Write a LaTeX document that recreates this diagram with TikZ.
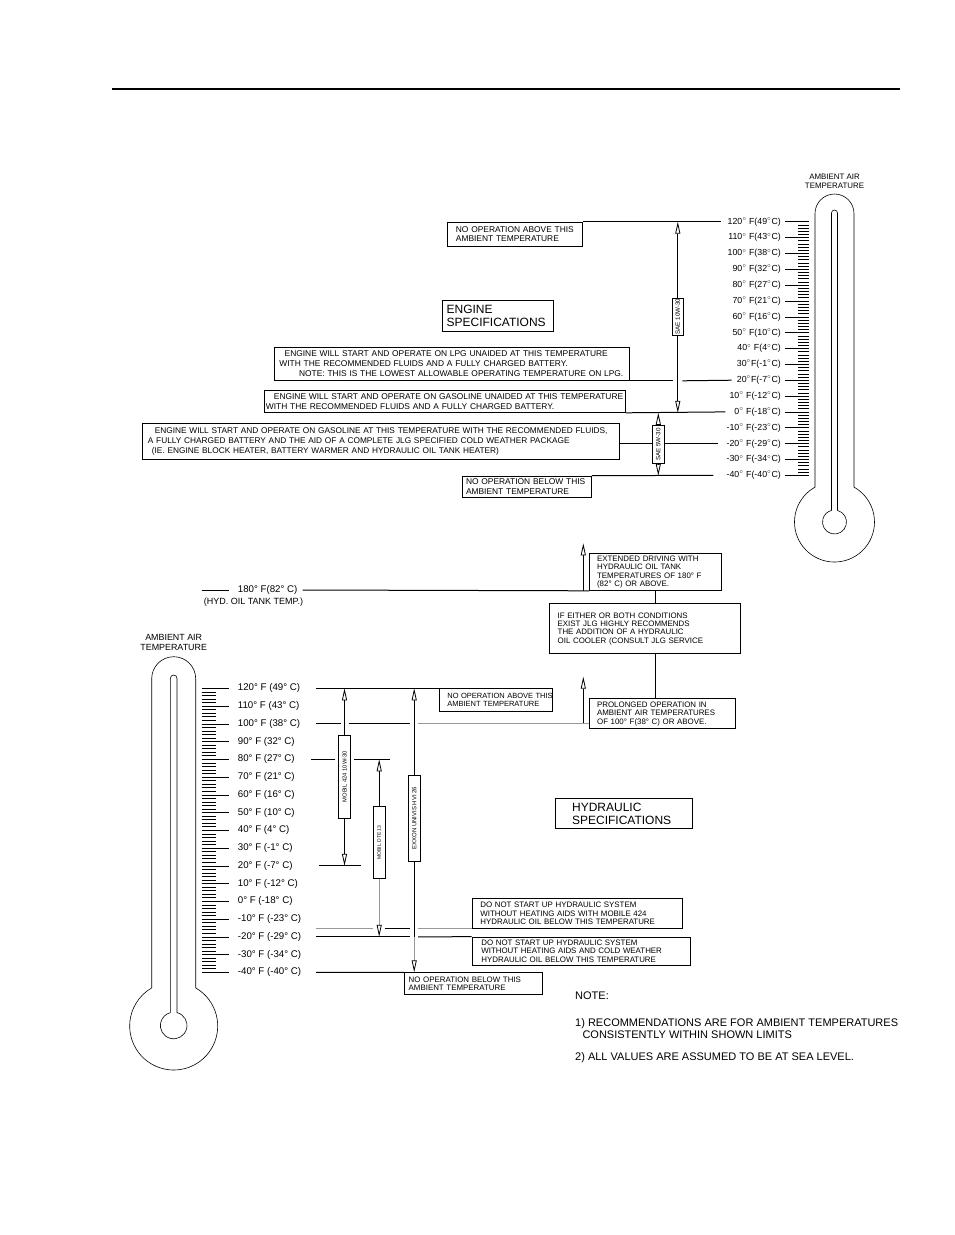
\documentclass[tikz,border=0pt]{standalone}
\usepackage{fontspec}
\setmainfont{Liberation Sans}
\usetikzlibrary{arrows.meta, calc}

\begin{document}
\begin{tikzpicture}[x=1pt, y=-1pt,
  note/.style  ={draw, line width=0.8pt, anchor=north west, align=left,
                 inner ysep=0pt, font=\fontsize{8.4}{9.8}\selectfont},
  hnote/.style ={note, font=\fontsize{7.9}{8.4}\selectfont},
  spec/.style  ={note, font=\fontsize{12}{13.4}\selectfont},
  oil/.style   ={draw, fill=white, line width=0.8pt, inner sep=0pt},
  arr/.style   ={-{Triangle[open, length=12pt, width=5pt, color=black]},
                 line width=0.8pt},
  lvl/.style   ={line width=1pt},
  faint/.style ={line width=1pt, draw=black!40},
  tick/.style  ={line width=0.6pt},
  therm/.style ={line width=0.6pt},
  tlbl/.style  ={inner sep=1pt, font=\fontsize{8.8}{10}\selectfont},
  blbl/.style  ={inner sep=1pt, font=\fontsize{9.7}{11}\selectfont},
]
\useasboundingbox (0,0) rectangle (954,1235);
\draw[line width=1.5pt] (112,89) -- (900,89);

%% ---- Engine thermometer ----
\node[align=center, font=\fontsize{7.9}{9.3}\selectfont] (ambe) at (834.5,181.5)
  {AMBIENT AIR\\TEMPERATURE};
\draw[therm] (815,487.1) -- (815,213.5) arc[start angle=180, end angle=360, radius=19.5]
  -- (854,487.1) arc[start angle=-60.8, end angle=240.8, radius=40] -- cycle;
\draw[therm] (831.5,510.4) -- (831.5,213) arc[start angle=180, end angle=360, radius=3]
  -- (837.5,510.4) arc[start angle=-75.5, end angle=255.5, radius=12] -- cycle;
\foreach \tf in {120,118,...,-40}
  \draw[tick] (798,{221.7+(120-\tf)*1.585}) -- (809,{221.7+(120-\tf)*1.585});
\foreach \tf/\id/\txt in {120/120/{120$^\circ$ F(49$^\circ$C)}, 110/110/{110$^\circ$ F(43$^\circ$C)},
    100/100/{100$^\circ$ F(38$^\circ$C)}, 90/90/{90$^\circ$ F(32$^\circ$C)},
    80/80/{80$^\circ$ F(27$^\circ$C)}, 70/70/{70$^\circ$ F(21$^\circ$C)},
    60/60/{60$^\circ$ F(16$^\circ$C)}, 50/50/{50$^\circ$ F(10$^\circ$C)},
    40/40/{40$^\circ$ F(4$^\circ$C)}, 30/30/{30$^\circ$F(-1$^\circ$C)},
    20/20/{20$^\circ$F(-7$^\circ$C)}, 10/10/{10$^\circ$ F(-12$^\circ$C)},
    0/0/{0$^\circ$ F(-18$^\circ$C)}, -10/m10/{-10$^\circ$ F(-23$^\circ$C)},
    -20/m20/{-20$^\circ$ F(-29$^\circ$C)}, -30/m30/{-30$^\circ$ F(-34$^\circ$C)},
    -40/m40/{-40$^\circ$ F(-40$^\circ$C)}}{
  \pgfmathsetmacro{\yy}{221.7+(120-\tf)*1.585}
  \node[tlbl, anchor=east] (te\id) at (782,\yy) {\txt};
  \draw[tick] (785,\yy) -- (809,\yy);
}

%% ---- Engine notes ----
\node[note, inner xsep=8.5pt, text width=118pt, minimum height=24pt] (noabove_e) at (447,221.7)
  {NO OPERATION ABOVE THIS\\AMBIENT TEMPERATURE};
\node[spec, inner xsep=4.5pt, text width=102pt, minimum height=30.7pt] (engspec) at (441.7,300)
  {ENGINE\\SPECIFICATIONS};
\node[note, inner xsep=4.7pt, text width=345.3pt, minimum height=33pt] (lpg) at (274.3,347)
  {\hspace*{5.3pt}ENGINE WILL START AND OPERATE ON LPG UNAIDED AT THIS TEMPERATURE\\
   WITH THE RECOMMENDED FLUIDS AND A FULLY CHARGED BATTERY.\\
   \hspace*{19.7pt}NOTE: THIS IS THE LOWEST ALLOWABLE OPERATING TEMPERATURE ON LPG.};
\node[note, inner xsep=2pt, text width=357.5pt, minimum height=22pt] (gas) at (263.5,390)
  {\hspace*{8pt}ENGINE WILL START AND OPERATE ON GASOLINE UNAIDED AT THIS TEMPERATURE\\
   WITH THE RECOMMENDED FLUIDS AND A FULLY CHARGED BATTERY.};
\node[note, font=\fontsize{8.3}{9.8}\selectfont, inner xsep=6pt, text width=465pt,
  minimum height=36pt] (cold) at (141.5,423.3)
  {\mbox{\hspace*{7pt}ENGINE WILL START AND OPERATE ON GASOLINE AT THIS TEMPERATURE WITH THE RECOMMENDED FLUIDS,}\\
   A FULLY CHARGED BATTERY AND THE AID OF A COMPLETE JLG SPECIFIED COLD WEATHER PACKAGE\\
   \hspace*{4pt}(IE. ENGINE BLOCK HEATER, BATTERY WARMER AND HYDRAULIC OIL TANK HEATER)};
\node[note, inner xsep=3.6pt, text width=121.8pt, minimum height=21pt] (nobelow_e) at (462,475.7)
  {NO OPERATION BELOW THIS\\AMBIENT TEMPERATURE};

\node[oil, minimum width=11pt, minimum height=36.7pt, font=\fontsize{6.2}{6}\selectfont]
  (sae10) at (677.8,316.7) {\rotatebox{90}{SAE 10W-30}};
\node[oil, minimum width=11.3pt, minimum height=37.6pt, font=\fontsize{6.2}{6}\selectfont]
  (sae5) at (658.3,444.5) {\rotatebox{90}{SAE 5W-30}};

%% ---- Engine levels ----
\draw[lvl] (noabove_e.north east) -- ($(te120.west)+(-5,0)$);
\draw[lvl] (lpg.south east) -- ($(sae10 |- lpg.south)+(-4.5,0)$);
\draw[lvl] ($(sae10 |- lpg.south)+(4.5,0)$) -- ($(te20.west)+(-4,0)$);
\draw[lvl] (gas.south east) -- ($(te0.west)+(-8,0)$);
\draw[lvl] (cold.east |- tem20) -- (sae5.west |- tem20);
\draw[lvl] (sae5.east |- tem20) -- ($(tem20.west)+(-7,0)$);
\draw[lvl] (nobelow_e.north east) -- ($(tem40.west)+(-12,0)$);

\draw[arr] (sae10.north) -- (sae10.north |- noabove_e.north);
\draw[arr] (sae10.south) -- (sae10.south |- gas.south);
\draw[arr] (sae5.north)  -- (sae5.north |- gas.south);
\draw[arr] (sae5.south)  -- (sae5.south |- nobelow_e.north);

%% ---- Hydraulic thermometer ----
\node[align=center, font=\fontsize{8.9}{10}\selectfont] (ambh) at (173.7,642.7)
  {AMBIENT AIR\\TEMPERATURE};
\draw[therm] (151.7,987.9) -- (151.7,678.7) arc[start angle=180, end angle=360, radius=22]
  -- (195.7,987.9) arc[start angle=-60, end angle=240, radius=44] -- cycle;
\draw[therm] (170.4,1012.6) -- (170.4,678.3) arc[start angle=180, end angle=360, radius=3.3]
  -- (177,1012.6) arc[start angle=-75.6, end angle=255.6, radius=13.3] -- cycle;
\foreach \tf in {120,118,...,-40}
  \draw[tick] (201.7,{688.3+(120-\tf)*1.775}) -- (216,{688.3+(120-\tf)*1.775});
\foreach \tf/\id/\txt in {120/120/{120° F (49° C)}, 110/110/{110° F (43° C)},
    100/100/{100° F (38° C)}, 90/90/{90° F (32° C)}, 80/80/{80° F (27° C)},
    70/70/{70° F (21° C)}, 60/60/{60° F (16° C)}, 50/50/{50° F (10° C)},
    40/40/{40° F (4° C)}, 30/30/{30° F (-1° C)}, 20/20/{20° F (-7° C)},
    10/10/{10° F (-12° C)}, 0/0/{0° F (-18° C)}, -10/m10/{-10° F (-23° C)},
    -20/m20/{-20° F (-29° C)}, -30/m30/{-30° F (-34° C)}, -40/m40/{-40° F (-40° C)}}{
  \pgfmathsetmacro{\yy}{688.3+(120-\tf)*1.775}
  \node[blbl, anchor=west] (tb\id) at (236.7,\yy) {\txt};
  \draw[tick] (201.7,\yy) -- (229.3,\yy);
}
\node[blbl, anchor=west] (tb180) at (236.7,590) {180° F(82° C)};
\draw[lvl] (201.7,590) -- (229.3,590);
\node[blbl, anchor=west, font=\fontsize{9}{10}\selectfont] (hydtemp) at (202.7,601.7)
  {(HYD. OIL TANK TEMP.)};

%% ---- Hydraulic notes ----
\node[hnote, inner xsep=7.4pt, text width=116.6pt, minimum height=36.7pt] (extdrv) at (589.3,553.3)
  {EXTENDED DRIVING WITH\\HYDRAULIC OIL TANK\\TEMPERATURES OF 180° F\\(82° C) OR ABOVE.};
\node[hnote, inner xsep=8.3pt, text width=174.4pt, minimum height=50pt] (ifeither) at (549,603.3)
  {IF EITHER OR BOTH CONDITIONS\\EXIST JLG HIGHLY RECOMMENDS\\THE ADDITION OF A HYDRAULIC\\OIL COOLER (CONSULT JLG SERVICE};
\node[hnote, inner xsep=7.4pt, text width=130.9pt, minimum height=30pt] (prolong) at (589.3,698.3)
  {PROLONGED OPERATION IN\\AMBIENT AIR TEMPERATURES\\OF 100° F(38° C) OR ABOVE.};
\node[hnote, font=\fontsize{7.5}{8.3}\selectfont, inner xsep=8pt, text width=97pt,
  minimum height=22.4pt] (noabove_h) at (439,688.3) {\mbox{NO OPERATION ABOVE THIS}\\AMBIENT TEMPERATURE};
\node[spec, inner xsep=16.7pt, text width=103.3pt, minimum height=30pt] (hydspec) at (555,798.3)
  {HYDRAULIC\\SPECIFICATIONS};
\node[hnote, inner xsep=8.3pt, text width=193.4pt, minimum height=29.7pt] (nostart1) at (471.7,898.3)
  {DO NOT START UP HYDRAULIC SYSTEM\\WITHOUT HEATING AIDS WITH MOBILE 424\\HYDRAULIC OIL BELOW THIS TEMPERATURE};
\node[hnote, inner xsep=9.3pt, text width=199.7pt, minimum height=28.3pt] (nostart2) at (471.7,936.7)
  {DO NOT START UP HYDRAULIC SYSTEM\\WITHOUT HEATING AIDS AND COLD WEATHER\\HYDRAULIC OIL BELOW THIS TEMPERATURE};
\node[hnote, inner xsep=4.3pt, text width=129.1pt, minimum height=21.7pt] (nobelow_h) at (404,972.3)
  {NO OPERATION BELOW THIS\\AMBIENT TEMPERATURE};

\node[oil, minimum width=12.4pt, minimum height=83.3pt, font=\fontsize{5.8}{6}\selectfont]
  (mob424) at (344.5,776.7) {\rotatebox{90}{MOBIL 424 10W-30}};
\node[oil, minimum width=11.7pt, minimum height=71.6pt, font=\fontsize{5}{6}\selectfont]
  (dte13) at (379.2,842.5) {\rotatebox{90}{MOBIL DTE 13}};
\node[oil, minimum width=11.7pt, minimum height=86.7pt, font=\fontsize{6}{6}\selectfont]
  (exxon) at (414.2,818.3) {\rotatebox{90}{EXXON UNIVIS HVI 26}};

%% ---- Hydraulic levels ----
\coordinate (lx) at (316,0);
\coordinate (tip180) at (583.3,543.3);
\coordinate (tip100) at (583.3,676.7);
\draw[lvl] ($(tb180.east)+(4,0)$) -- (extdrv.south west);
\draw[lvl] (extdrv.south) -- (extdrv.south |- ifeither.north);
\draw[lvl] (extdrv.south |- ifeither.south) -- (extdrv.south |- prolong.north);
\draw[arr] (tip180 |- extdrv.south) -- (tip180);
\draw[arr] (tip100 |- tb100) -- (tip100);

\draw[lvl] (lx |- tb120) -- (noabove_h.north west);
\draw[lvl] (lx |- tb100) -- ($(mob424 |- tb100)+(-4,0)$);
\draw[lvl] ($(mob424 |- tb100)+(4,0)$) -- ($(exxon |- tb100)+(-4,0)$);
\draw[faint] ($(exxon |- tb100)+(4,0)$) -- (prolong.west |- tb100);
\draw[lvl] ($(lx |- tb80)+(-5,0)$) -- ($(mob424.west |- tb80)+(-3,0)$);
\draw[lvl] ($(mob424.east |- tb80)+(3,0)$) -- ($(dte13 |- tb80)+(11,0)$);
\draw[lvl] ($(lx |- tb20)+(3,0)$) -- ($(mob424 |- tb20)+(16,0)$);
\draw[faint] (lx |- nostart1.south) -- ($(dte13 |- nostart1.south)+(-6,0)$);
\draw[lvl] ($(dte13 |- nostart1.south)+(6,0)$) -- ($(exxon |- nostart1.south)+(-4,0)$);
\draw[faint] ($(exxon |- nostart1.south)+(4,0)$) -- (nostart1.south west);
\draw[lvl] (lx |- tbm20) -- ($(exxon |- tbm20)+(-4,0)$);
\draw[lvl] ($(exxon |- tbm20)+(4,0)$) -- (nostart2.north west);
\draw[lvl] (lx |- tbm40) -- (nobelow_h.north west);

\draw[arr] (mob424.north) -- (mob424.north |- tb120);
\draw[arr] (mob424.south) -- (mob424.south |- tb20);
\draw[arr] (dte13.north) -- (dte13.north |- tb80);
\draw[faint, arr] (dte13.south) -- (dte13.south |- tbm20);
\draw[arr] (exxon.north) -- (exxon.north |- tb120);
\draw[line width=0.8pt] (exxon.south) -- (exxon.south |- tbm20);
\draw[faint, arr] (exxon.south |- tbm20) -- (exxon.south |- tbm40);

%% ---- Note ----
\node[anchor=west, inner sep=0pt, font=\fontsize{11}{12.7}\selectfont] (note0) at (575,995.7) {NOTE:};
\node[anchor=north west, align=left, inner sep=0pt, font=\fontsize{11}{12.7}\selectfont] (note1)
  at (575,1018) {1) RECOMMENDATIONS ARE FOR AMBIENT TEMPERATURES\\\hspace*{7.3pt}CONSISTENTLY WITHIN SHOWN LIMITS};
\node[anchor=west, inner sep=0pt, font=\fontsize{11}{12.7}\selectfont] (note2) at (575,1057.7)
  {2) ALL VALUES ARE ASSUMED TO BE AT SEA LEVEL.};

\end{tikzpicture}
\end{document}
